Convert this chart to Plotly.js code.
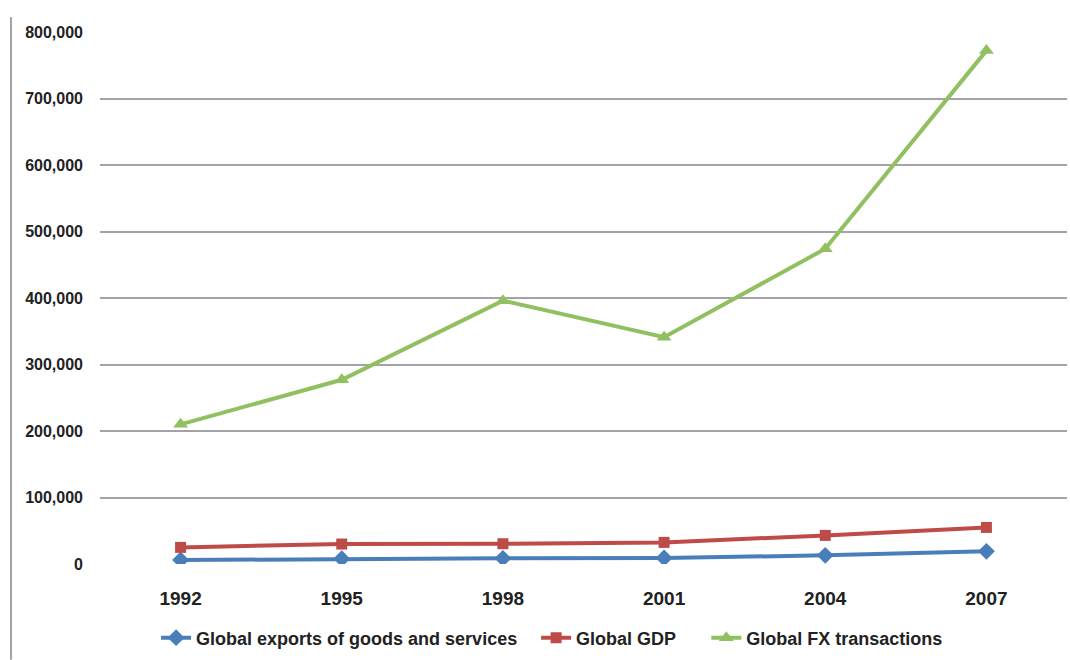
<!DOCTYPE html>
<html>
<head>
<meta charset="utf-8">
<script src="https://cdn.plot.ly/plotly-3.0.1.min.js"></script>
<style>html,body{margin:0;padding:0;background:#fff;}#chart{width:1070px;height:660px;}</style>
</head>
<body>
<div id="chart"></div>
<script>
const years = ["1992", "1995", "1998", "2001", "2004", "2007"];
const exportsValues = [6000, 8000, 8500, 9000, 13000, 19000];
const gdpValues = [25000, 30000, 30500, 32500, 43000, 55000];
const fxValues = [210000, 277000, 396000, 341000, 474000, 772000];
const seriesNames = ["Global exports of goods and services", "Global GDP", "Global FX transactions"];
const yTickValues = [0, 100000, 200000, 300000, 400000, 500000, 600000, 700000, 800000];

const font = "Liberation Sans, Arial, sans-serif";
const traces = [
  {x: years, y: exportsValues, name: seriesNames[0], type: "scatter", mode: "lines+markers", legend: "legend",
   line: {color: "#4A7EBB", width: 4}, marker: {symbol: "diamond", size: 13, color: "#4A7EBB"}},
  {x: years, y: gdpValues, name: seriesNames[1], type: "scatter", mode: "lines+markers", legend: "legend2",
   line: {color: "#BE4B48", width: 4}, marker: {symbol: "square", size: 11, color: "#BE4B48"}},
  {x: years, y: fxValues, name: seriesNames[2], type: "scatter", mode: "lines+markers", legend: "legend3",
   line: {color: "#91C060", width: 4}, marker: {symbol: "triangle-up", size: 13, color: "#91C060"}}
];
const legendBase = {orientation: "h", xanchor: "left", y: -0.139, yanchor: "middle",
  font: {family: font, size: 18, color: "#222", weight: "bold"},
  itemwidth: 30, bgcolor: "rgba(0,0,0,0)"};
const layout = {
  width: 1070, height: 660,
  margin: {l: 100, r: 3, t: 32, b: 94},
  paper_bgcolor: "#fff", plot_bgcolor: "#fff",
  showlegend: true,
  font: {family: font, color: "#222"},
  xaxis: {type: "category", range: [-0.5, 5.5], showgrid: false, zeroline: false, showline: false,
          ticks: "", ticklabelstandoff: 21,
          tickfont: {family: font, size: 19, color: "#222", weight: "bold"}},
  yaxis: {range: [0, 800000], tickvals: yTickValues, tickformat: ",", showgrid: true,
          gridcolor: "#A3A3A7", gridwidth: 2, zeroline: false, showline: false, ticks: "",
          ticklabelstandoff: 16,
          tickfont: {family: font, size: 16, color: "#222", weight: "bold"}},
  legend: Object.assign({}, legendBase, {x: 0.058}),
  legend2: Object.assign({}, legendBase, {x: 0.451}),
  legend3: Object.assign({}, legendBase, {x: 0.627}),
  shapes: [{type: "line", xref: "paper", yref: "paper", x0: -0.092, x1: -0.092, y0: -0.18, y1: 1.028,
            line: {color: "#A3A3A7", width: 2}}]
};
Plotly.newPlot("chart", traces, layout, {displayModeBar: false, staticPlot: true});
</script>
</body>
</html>
